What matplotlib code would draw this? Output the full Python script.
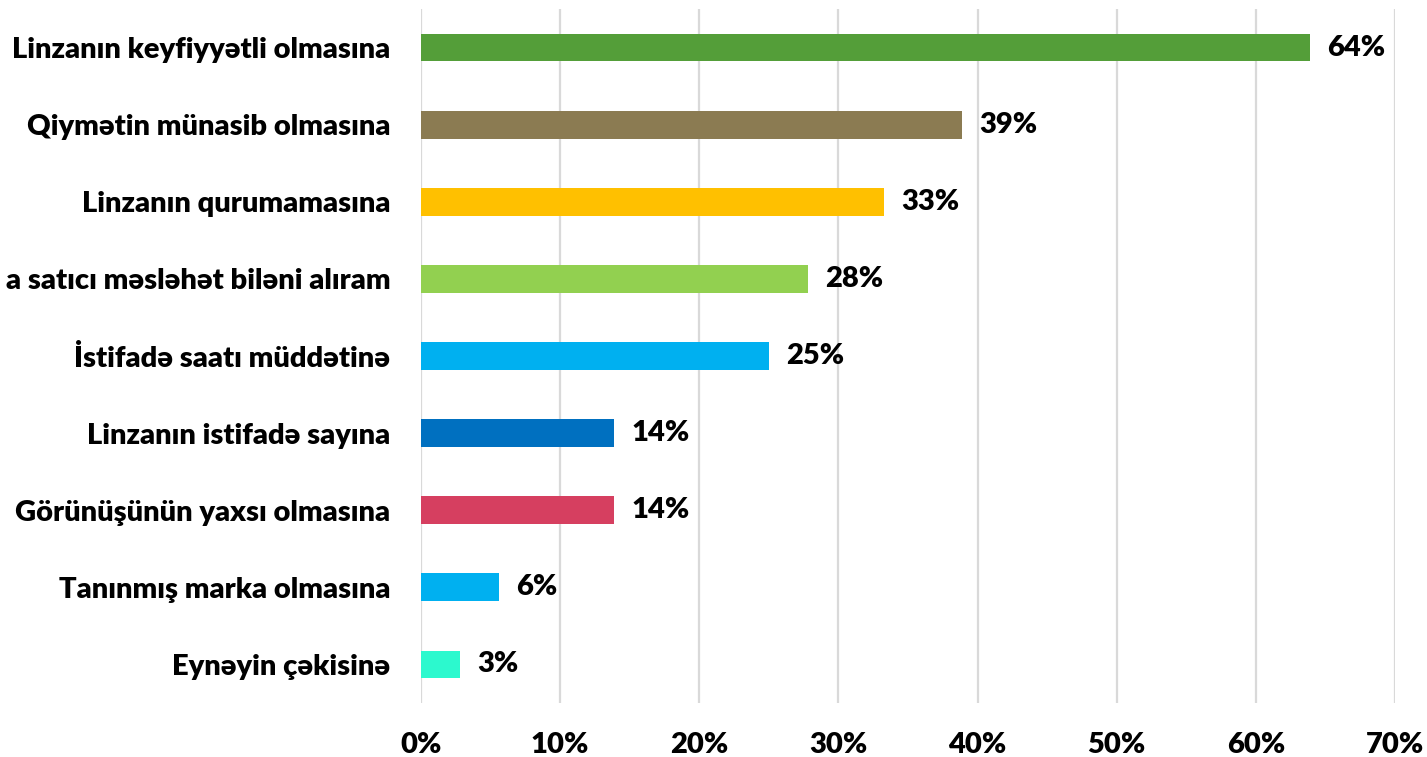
import matplotlib
matplotlib.use("Agg")
import matplotlib.pyplot as plt
from matplotlib.ticker import FuncFormatter

categories = [
    "Linzanın keyfiyyətli olmasına",
    "Qiymətin münasib olmasına",
    "Linzanın qurumamasına",
    "a satıcı məsləhət biləni alıram",
    "İstifadə saatı müddətinə",
    "Linzanın istifadə sayına",
    "Görünüşünün yaxsı olmasına",
    "Tanınmış marka olmasına",
    "Eynəyin çəkisinə",
]
values = [63.9, 38.9, 33.3, 27.8, 25.0, 13.9, 13.9, 5.6, 2.8]
colors = ["#549E39", "#8B7B52", "#FFC000", "#92D050", "#00B0F0",
          "#0070C0", "#D63F60", "#00B0F0", "#2CF9CE"]
xticks = [0, 10, 20, 30, 40, 50, 60, 70]

plt.rcParams['font.family'] = ['Lato', 'DejaVu Sans']
FS = 21

fig = plt.figure(figsize=(14.27, 7.57), dpi=100)
ax = fig.add_axes([421/1427, 54/757, (1395-421)/1427, (703-9)/757])

y = list(range(len(categories)))
ax.barh(y, values, height=0.36, color=colors, zorder=3)
ax.set_ylim(len(categories) - 0.5, -0.5)
ax.set_xlim(0, 70)
ax.set_xticks(xticks)
ax.xaxis.set_major_formatter(FuncFormatter(lambda v, p: f"{v:.0f}%"))
ax.set_yticks(y)
ax.set_yticklabels(categories)
ax.grid(axis='x', color='#D9D9D9', linewidth=1.6, zorder=0)
for s in ax.spines.values():
    s.set_visible(False)
ax.tick_params(axis='both', length=0, labelsize=FS)
ax.tick_params(axis='y', pad=22)
ax.tick_params(axis='x', pad=21)
for lab in ax.get_xticklabels() + ax.get_yticklabels():
    lab.set_fontweight('heavy')

for yi, v in zip(y, values):
    ax.annotate(f"{v:.0f}%", (v, yi), xytext=(17, 0), textcoords='offset pixels',
                va='center', ha='left', fontsize=FS, fontweight='heavy', zorder=4)

fig.savefig("out.png", dpi=100)
